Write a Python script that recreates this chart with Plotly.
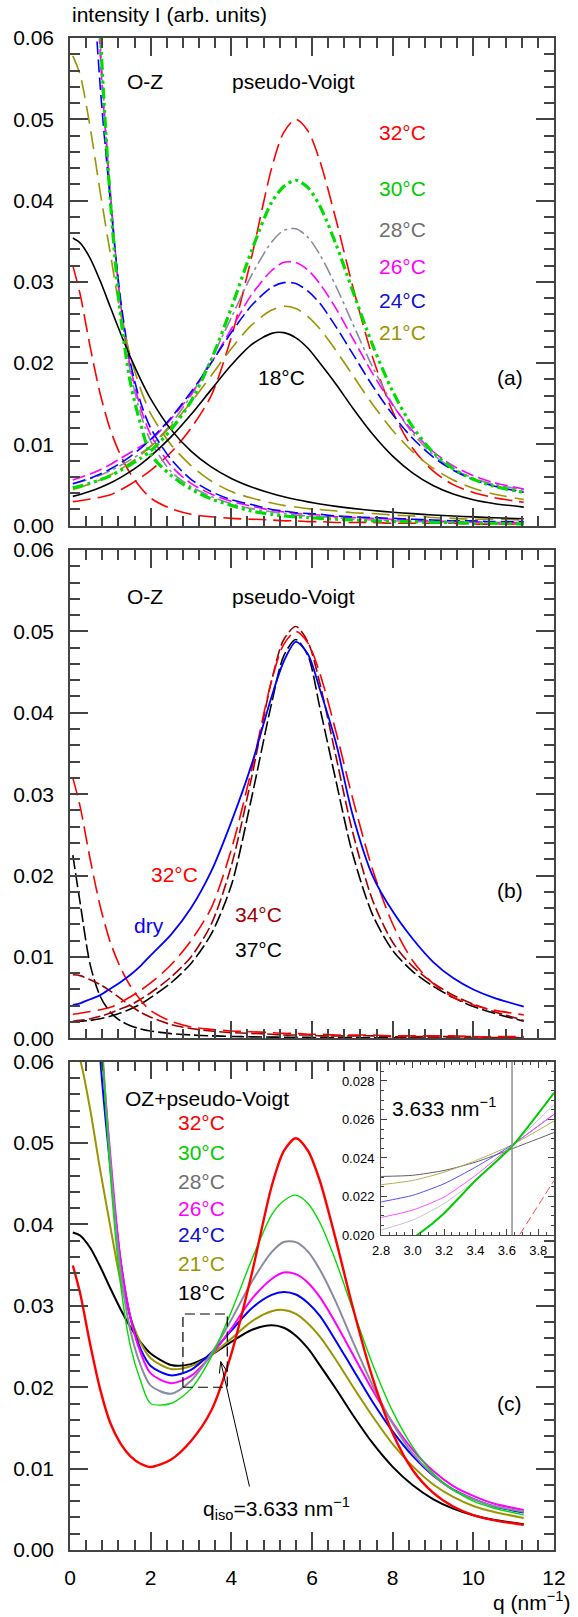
import plotly.graph_objects as go

# ---------------- data ----------------
Q = [0.07, 0.25, 0.5, 0.75, 1.0, 1.25, 1.5, 1.75, 2.0, 2.5, 3.0, 3.5, 4.0, 4.5, 5.0,
     5.3, 5.6, 5.9, 6.2, 6.6, 7.0, 7.5, 8.0, 8.5, 9.0, 9.5, 10.0, 10.5, 11.25]

temps_a = ["32°C", "30°C", "28°C", "26°C", "24°C", "21°C", "18°C"]

# panel (a): pseudo-Voigt components
pv_32 = [.00296, .00307, .00329, .00351, .00380, .00440, .00510, .00590, .00680, .00900, .01200, .01600, .02320, .03300, .04400,
         .04840, .05000, .04856, .04478, .03755, .02964, .02077, .01404, .00950, .00675, .00505, .00409, .00347, .00288]
pv_30 = [.00467, .00488, .00522, .00565, .00613, .00680, .00750, .00830, .00920, .01180, .01530, .02040, .02680, .03380, .03979,
         .04172, .04250, .04158, .03928, .03456, .02902, .02225, .01653, .01213, .00903, .00701, .00571, .00486, .00411]
pv_28 = [.00517, .00538, .00577, .00621, .00676, .00740, .00810, .00890, .00980, .01250, .01600, .02050, .02560, .03080, .03490,
         .03634, .03653, .03547, .03331, .02940, .02496, .01955, .01495, .01133, .00876, .00698, .00585, .00510, .00441]
pv_26 = [.00561, .00592, .00636, .00689, .00753, .00828, .00900, .00975, .01050, .01310, .01620, .02000, .02420, .02840, .03140,
         .03240, .03239, .03145, .02974, .02668, .02315, .01875, .01483, .01161, .00913, .00736, .00615, .00531, .00452]
pv_24 = [.00516, .00545, .00585, .00637, .00698, .00770, .00854, .00951, .01061, .01326, .01644, .02003, .02376, .02708, .02934,
         .02990, .02979, .02885, .02733, .02443, .02123, .01722, .01367, .01073, .00846, .00682, .00568, .00488, .00412]
pv_21 = [.00445, .00471, .00513, .00564, .00624, .00694, .00776, .00869, .00975, .01224, .01519, .01846, .02178, .02467, .02653,
         .02699, .02671, .02573, .02418, .02152, .01858, .01494, .01172, .00908, .00708, .00562, .00461, .00390, .00323]
pv_18 = [.00361, .00385, .00424, .00471, .00526, .00592, .00668, .00755, .00855, .01089, .01367, .01674, .01976, .02227, .02366,
         .02375, .02311, .02183, .01998, .01737, .01455, .01128, .00856, .00647, .00494, .00390, .00320, .00274, .00229]

# panel (a): Ornstein-Zernike components
oz_32 = [.0320, .0285, .0220, .0162, .0118, .0087, .0064, .0047, .0034, .0021, .0014, .0011, .0009, .0008, .0007,
         .0006, .0006, .0005, .0005, .0004, .0004, .0004, .0003, .0003, .0003, .0003, .0002, .0002, .0002]
oz_30 = [.300, .200, .100, .061, .040, .026, .0175, .0125, .0088, .0062, .0045, .0033, .0025, .0018, .0014,
         .0012, .0011, .0010, .0009, .0008, .0007, .0006, .0005, .0005, .0004, .0004, .0003, .0003, .0002]
oz_28 = [.300, .200, .100, .060, .041, .027, .0188, .0138, .0104, .0067, .0048, .0036, .0027, .0021, .0017,
         .0015, .0013, .0012, .0011, .0010, .0008, .0007, .0006, .0005, .0005, .0004, .0004, .0003, .0003]
oz_26 = [.300, .200, .100, .058, .041, .0275, .0195, .0145, .0112, .0074, .0052, .0039, .0030, .0024, .0019,
         .0017, .0015, .0014, .0013, .0011, .0010, .0009, .0008, .0007, .0006, .0005, .0005, .0004, .0004]
oz_24 = [.250, .150, .075, .054, .040, .0280, .0200, .0152, .0120, .0082, .0057, .0042, .0032, .0026, .0020,
         .0018, .0016, .0015, .0014, .0012, .0011, .0010, .0009, .0008, .0007, .0006, .0006, .0005, .0005]
oz_21 = [.0578, .0555, .0490, .0410, .0335, .0262, .0208, .0168, .0138, .0100, .0074, .0055, .0042, .0034, .0028,
         .0025, .0023, .0021, .0020, .0018, .0016, .0015, .0013, .0012, .0010, .0009, .0008, .0008, .0007]
oz_18 = [.0354, .0348, .0329, .0301, .0269, .0237, .0207, .0180, .0156, .01185, .00917, .00723, .00581, .00476, .00395,
         .00356, .00322, .00293, .00268, .00238, .00213, .00187, .00166, .00148, .00132, .00119, .00108, .00098, .00086]

# panel (b)
temps_b = ["dry", "32°C", "34°C", "37°C"]
pv_dry = [.0041, .0043, .0048, .0053, .0061, .0069, .0078, .0089, .0102, .0127, .0160, .0205, .0266, .0336, .0420,
          .0463, .0487, .0472, .0428, .0362, .0276, .0200, .0156, .0122, .0094, .0074, .0060, .0050, .0039]
pv_34 = [.0021, .0022, .0024, .0027, .0031, .0036, .0041, .0048, .0056, .0075, .0100, .0140, .0212, .0320, .0440,
         .0490, .0506, .0487, .0435, .0345, .0255, .0170, .0118, .0088, .0068, .0053, .0042, .0033, .0022]
pv_37 = [.0020, .0021, .0022, .0024, .0027, .0031, .0036, .0042, .0050, .0068, .0092, .0128, .0188, .0295, .0412,
         .0470, .0490, .0470, .0405, .0315, .0228, .0152, .0108, .0082, .0064, .0050, .0039, .0031, .0021]
oz_34 = [.0078, .0077, .0072, .0066, .0058, .0049, .0040, .0032, .0026, .0017, .0012, .0009, .0007, .0006, .0005,
         .0004, .0004, .0004, .0003, .0003, .0003, .0003, .0002, .0002, .0002, .0002, .0002, .0001, .0001]
oz_37 = [.0225, .0167, .00905, .00514, .0032, .00215, .00154, .00115, .00089, .00058, .00041, .0003, .00023, .00018, .00015,
         .00013, .00012, .00011, .0001, .00008, .00008, .00007, .00006, .00005, .00004, .00004, .00004, .00003, .00003]

# panel (c): OZ + pseudo-Voigt
sum_32 = [.03496, .03157, .02529, .01971, .01560, .01310, .01150, .01060, .01020, .01110, .01340, .01710, .02410, .03380, .04470,
          .04900, .05060, .04906, .04528, .03795, .03004, .02117, .01434, .00980, .00705, .00535, .00429, .00367, .00308]
sum_30 = [.30467, .20488, .10522, .06665, .04613, .03280, .02500, .02080, .01800, .01800, .01980, .02370, .02930, .03560, .04119,
          .04292, .04360, .04258, .04018, .03536, .02972, .02285, .01703, .01263, .00943, .00741, .00601, .00516, .00431]
sum_28 = [.30517, .20538, .10577, .06621, .04776, .03440, .02690, .02270, .02020, .01920, .02080, .02410, .02830, .03290, .03660,
          .03784, .03783, .03667, .03441, .03040, .02576, .02025, .01555, .01183, .00926, .00738, .00625, .00540, .00471]
sum_26 = [.30561, .20592, .10636, .06489, .04853, .03578, .02850, .02425, .02170, .02050, .02140, .02390, .02720, .03080, .03330,
          .03410, .03389, .03285, .03104, .02778, .02415, .01965, .01563, .01231, .00973, .00786, .00665, .00571, .00492]
sum_24 = [.25516, .15545, .08085, .06037, .04698, .03570, .02854, .02471, .02261, .02146, .02214, .02423, .02696, .02968, .03134,
          .03170, .03139, .03035, .02873, .02563, .02233, .01822, .01457, .01153, .00916, .00742, .00628, .00538, .00462]
sum_21 = [.06225, .06021, .05413, .04664, .03974, .03314, .02856, .02549, .02355, .02224, .02259, .02396, .02598, .02807, .02933,
          .02949, .02901, .02783, .02618, .02332, .02018, .01644, .01302, .01028, .00808, .00652, .00541, .00470, .00393]
sum_18 = [.03901, .03865, .03714, .03481, .03216, .02962, .02738, .02555, .02415, .02274, .02284, .02397, .02557, .02703, .02761,
          .02731, .02633, .02476, .02266, .01975, .01668, .01315, .01022, .00795, .00626, .00509, .00428, .00372, .00315]

# inset of panel (c)
q_in = [2.8, 3.0, 3.2, 3.4, 3.633, 3.9]
in_18 = [.02304, .02310, .02335, .02378, .02448, .02532]
in_21 = [.02261, .02283, .02326, .02386, .02468, .02592]
in_24 = [.02172, .02206, .02266, .02352, .02468, .02627]
in_26 = [.02091, .02129, .02197, .02309, .02464, .02627]
in_28 = [.02026, .02077, .02163, .02283, .02464, .02678]
q_in30 = [2.8, 3.03, 3.2, 3.4, 3.633, 3.9]
in_30 = [.01890, .02000, .02112, .02283, .02460, .02738]
q_in32 = [3.6, 3.68, 3.9]
in_32 = [.01900, .02000, .02283]
q_iso = 3.633

# ---------------- styling ----------------
RED, GREEN, GRAY, MAG, BLUE, OLIVE, BLACK, DRED = (
    "#ff0000", "#00dd00", "#8a8aa0", "#ff00ff", "#0000ff", "#9c9400", "#000000", "#a00000")
FONT = "Liberation Sans, Arial, sans-serif"
AX = "#444444"

fig = go.Figure()


def add(xs, ys, color, width, dash, xa, ya, smooth=0.8):
    fig.add_trace(go.Scatter(
        x=xs, y=ys, mode="lines", showlegend=False, hoverinfo="skip",
        line=dict(color=color, width=width, dash=dash, shape="spline", smoothing=smooth),
        xaxis=xa, yaxis=ya))


# panel (a)
styles_a = [
    (pv_32, oz_32, RED, 1.6, "18px,7px"),
    (pv_28, oz_28, GRAY, 1.6, "14px,4px,3px,4px"),
    (pv_26, oz_26, MAG, 1.6, "13px,5px"),
    (pv_24, oz_24, BLUE, 1.6, "13px,5px"),
    (pv_21, oz_21, OLIVE, 1.6, "18px,8px"),
    (pv_18, oz_18, BLACK, 1.6, "solid"),
    (pv_30, oz_30, GREEN, 3.2, "11px,4px,3px,4px,3px,4px"),
]
for pv, oz, c, w, d in styles_a:
    add(Q, pv, c, w, d, "x", "y")
    add(Q, oz, c, w, d, "x", "y")

# panel (b)
add(Q, pv_37, BLACK, 1.6, "14px,4px", "x2", "y2")
add(Q, oz_37, BLACK, 1.6, "14px,4px", "x2", "y2")
add(Q, pv_34, DRED, 1.6, "12px,4px", "x2", "y2")
add(Q, oz_34, DRED, 1.6, "12px,4px", "x2", "y2")
add(Q, pv_32, RED, 1.6, "18px,7px", "x2", "y2")
add(Q, oz_32, RED, 1.6, "18px,7px", "x2", "y2")
add(Q, pv_dry, BLUE, 1.8, "solid", "x2", "y2")

# panel (c)
for s, c, w in [(sum_18, BLACK, 2), (sum_21, OLIVE, 2), (sum_24, BLUE, 2), (sum_26, MAG, 2),
                (sum_28, GRAY, 2), (sum_30, GREEN, 1.4), (sum_32, RED, 2.4)]:
    add(Q, s, c, w, "solid", "x3", "y3")

# inset
for xs, s, c, w, d in [(q_in, in_18, "#606060", 1, "solid"), (q_in, in_21, "#b8ae50", 1, "solid"),
                       (q_in, in_24, "#5050ff", 1, "solid"), (q_in, in_26, "#ff50ff", 1, "solid"),
                       (q_in, in_28, "#c4c4d4", 1, "solid"), (q_in30, in_30, "#00cc00", 2, "solid"),
                       (q_in32, in_32, "#ff4040", 1, "8px,4px")]:
    add(xs, s, c, w, d, "x4", "y4", smooth=0.6)

# ---------------- axes ----------------
T = 38
B = 67
H = 1617
PH = H - T - B


def dom(top_px, bot_px):
    return [(H - B - bot_px) / PH, (H - B - top_px) / PH]


dom_a = dom(38, 525.7)
dom_b = dom(550, 1038.3)
dom_c = dom(1061.7, 1550)
dom_in = dom(1061.7, 1235)

xcommon = dict(range=[0, 12], dtick=2, tick0=0, ticks="inside", ticklen=18, tickwidth=1.5, tickcolor=AX,
               minor=dict(dtick=0.4, ticks="inside", ticklen=10, tickwidth=1.5, tickcolor=AX),
               showline=True, linecolor=AX, linewidth=1.5, mirror="ticks", showgrid=False, zeroline=False,
               tickfont=dict(family=FONT, size=21, color="black"), ticklabelstandoff=8, domain=[0, 1])
ycommon = dict(range=[0, 0.06], dtick=0.01, tick0=0, tickformat=".2f", ticks="inside", ticklen=18, tickwidth=1.5,
               tickcolor=AX, minor=dict(dtick=0.002, ticks="inside", ticklen=10, tickwidth=1.5, tickcolor=AX),
               showline=True, linecolor=AX, linewidth=1.5, mirror="ticks", showgrid=False, zeroline=False,
               tickfont=dict(family=FONT, size=21, color="black"), ticklabelstandoff=10)

fig.update_layout(
    xaxis=dict(xcommon, anchor="y", showticklabels=False),
    yaxis=dict(ycommon, anchor="x", domain=dom_a),
    xaxis2=dict(xcommon, anchor="y2", showticklabels=False),
    yaxis2=dict(ycommon, anchor="x2", domain=dom_b),
    xaxis3=dict(xcommon, anchor="y3", showticklabels=True),
    yaxis3=dict(ycommon, anchor="x3", domain=dom_c),
    xaxis4=dict(range=[2.8, 3.9], dtick=0.2, tick0=2.8, tickformat=".1f", ticks="inside", ticklen=6, tickwidth=1,
                tickcolor=AX, minor=dict(dtick=0.05, ticks="inside", ticklen=3, tickwidth=1, tickcolor=AX),
                showline=True, linecolor=AX, linewidth=1.2, mirror="ticks", showgrid=False, zeroline=False,
                tickfont=dict(family=FONT, size=13, color="black"), ticklabelstandoff=3,
                domain=[(385 - 70) / 490, 1.0], anchor="y4"),
    yaxis4=dict(range=[0.020, 0.029], dtick=0.002, tick0=0.020, tickformat=".3f", ticks="inside", ticklen=6,
                tickwidth=1, tickcolor=AX, minor=dict(dtick=0.0005, ticks="inside", ticklen=3, tickwidth=1,
                                                       tickcolor=AX),
                showline=True, linecolor=AX, linewidth=1.2, mirror="ticks", showgrid=False, zeroline=False,
                tickfont=dict(family=FONT, size=13, color="black"), ticklabelstandoff=3,
                domain=dom_in, anchor="x4"),
    width=578, height=H, autosize=False,
    margin=dict(l=70, r=18, t=T, b=B),
    plot_bgcolor="white", paper_bgcolor="white",
    font=dict(family=FONT, size=21, color="black"),
)

# inset background, marker line and zoom box
fig.add_shape(type="rect", xref="x4 domain", yref="y4 domain", x0=0, x1=1, y0=0, y1=1,
              fillcolor="white", line=dict(width=0), layer="below")
fig.add_shape(type="line", xref="x4", yref="y4 domain", x0=q_iso, x1=q_iso, y0=0, y1=1,
              line=dict(color="#909090", width=1.5))
fig.add_shape(type="rect", xref="x3", yref="y3", x0=2.8, x1=3.9, y0=0.020, y1=0.029,
              line=dict(color="black", width=1.2, dash="10px,5px"))
# arrow from the q_iso label to the isosbestic region (shaft and open head)
fig.add_shape(type="line", xref="x3", yref="y3", x0=4.45, y0=0.0078, x1=3.737, y1=0.02314,
              line=dict(color="black", width=1))
fig.add_shape(type="path", xref="x3", yref="y3",
              path="M 3.703,0.02168 L 3.737,0.02314 L 3.899,0.02191",
              line=dict(color="black", width=1))


# ---------------- texts ----------------
def txt(x, y, s, xr, yr, color="black", size=21, xanchor="center"):
    fig.add_annotation(x=x, y=y, xref=xr, yref=yr, text=s, showarrow=False, xanchor=xanchor,
                       yanchor="middle", font=dict(family=FONT, size=size, color=color))


txt(0, 1 + (38 - 14) / PH, "intensity I (arb. units)", "paper", "paper", xanchor="left")
txt((578 - 70) / 490, -(1601 - 1550) / PH, "q (nm<sup>−1</sup>)", "paper", "paper", xanchor="right")

# panel a
txt(1.87, 0.0546, "O-Z", "x", "y")
txt(5.55, 0.0546, "pseudo-Voigt", "x", "y")
for lab, yv, c in zip(temps_a[:6], [0.0484, 0.0415, 0.0364, 0.0319, 0.0277, 0.0238],
                      [RED, "#00cc00", "#707070", MAG, "#1010d0", OLIVE]):
    txt(8.25, yv, lab, "x", "y", color=c)
txt(5.24, 0.0182, temps_a[6], "x", "y")
txt(10.9, 0.0182, "(a)", "x", "y")

# panel b
txt(1.87, 0.0543, "O-Z", "x2", "y2")
txt(5.55, 0.0543, "pseudo-Voigt", "x2", "y2")
txt(2.58, 0.0201, temps_b[1], "x2", "y2", color=RED)
txt(1.97, 0.0138, temps_b[0], "x2", "y2", color=BLUE)
txt(4.68, 0.0152, temps_b[2], "x2", "y2", color=DRED)
txt(4.68, 0.0109, temps_b[3], "x2", "y2")
txt(10.9, 0.0182, "(b)", "x2", "y2")

# panel c
txt(3.39, 0.0555, "OZ+pseudo-Voigt", "x3", "y3")
for lab, yv, c in zip(temps_a, [0.0525, 0.0489, 0.0453, 0.0420, 0.0388, 0.0352, 0.0317],
                      [RED, "#00cc00", "#707070", MAG, "#1010d0", OLIVE, BLACK]):
    txt(3.26, yv, lab, "x3", "y3", color=c)
txt(10.9, 0.0180, "(c)", "x3", "y3")
txt(5.12, 0.0051, "q<sub>iso</sub>=3.633 nm<sup>−1</sup>", "x3", "y3")
txt(3.20, 0.02665, "3.633 nm<sup>−1</sup>", "x4", "y4")

fig.write_html("out.html", config={"displayModeBar": False},
               post_script="document.body.style.margin='0';document.body.style.overflow='hidden';")
